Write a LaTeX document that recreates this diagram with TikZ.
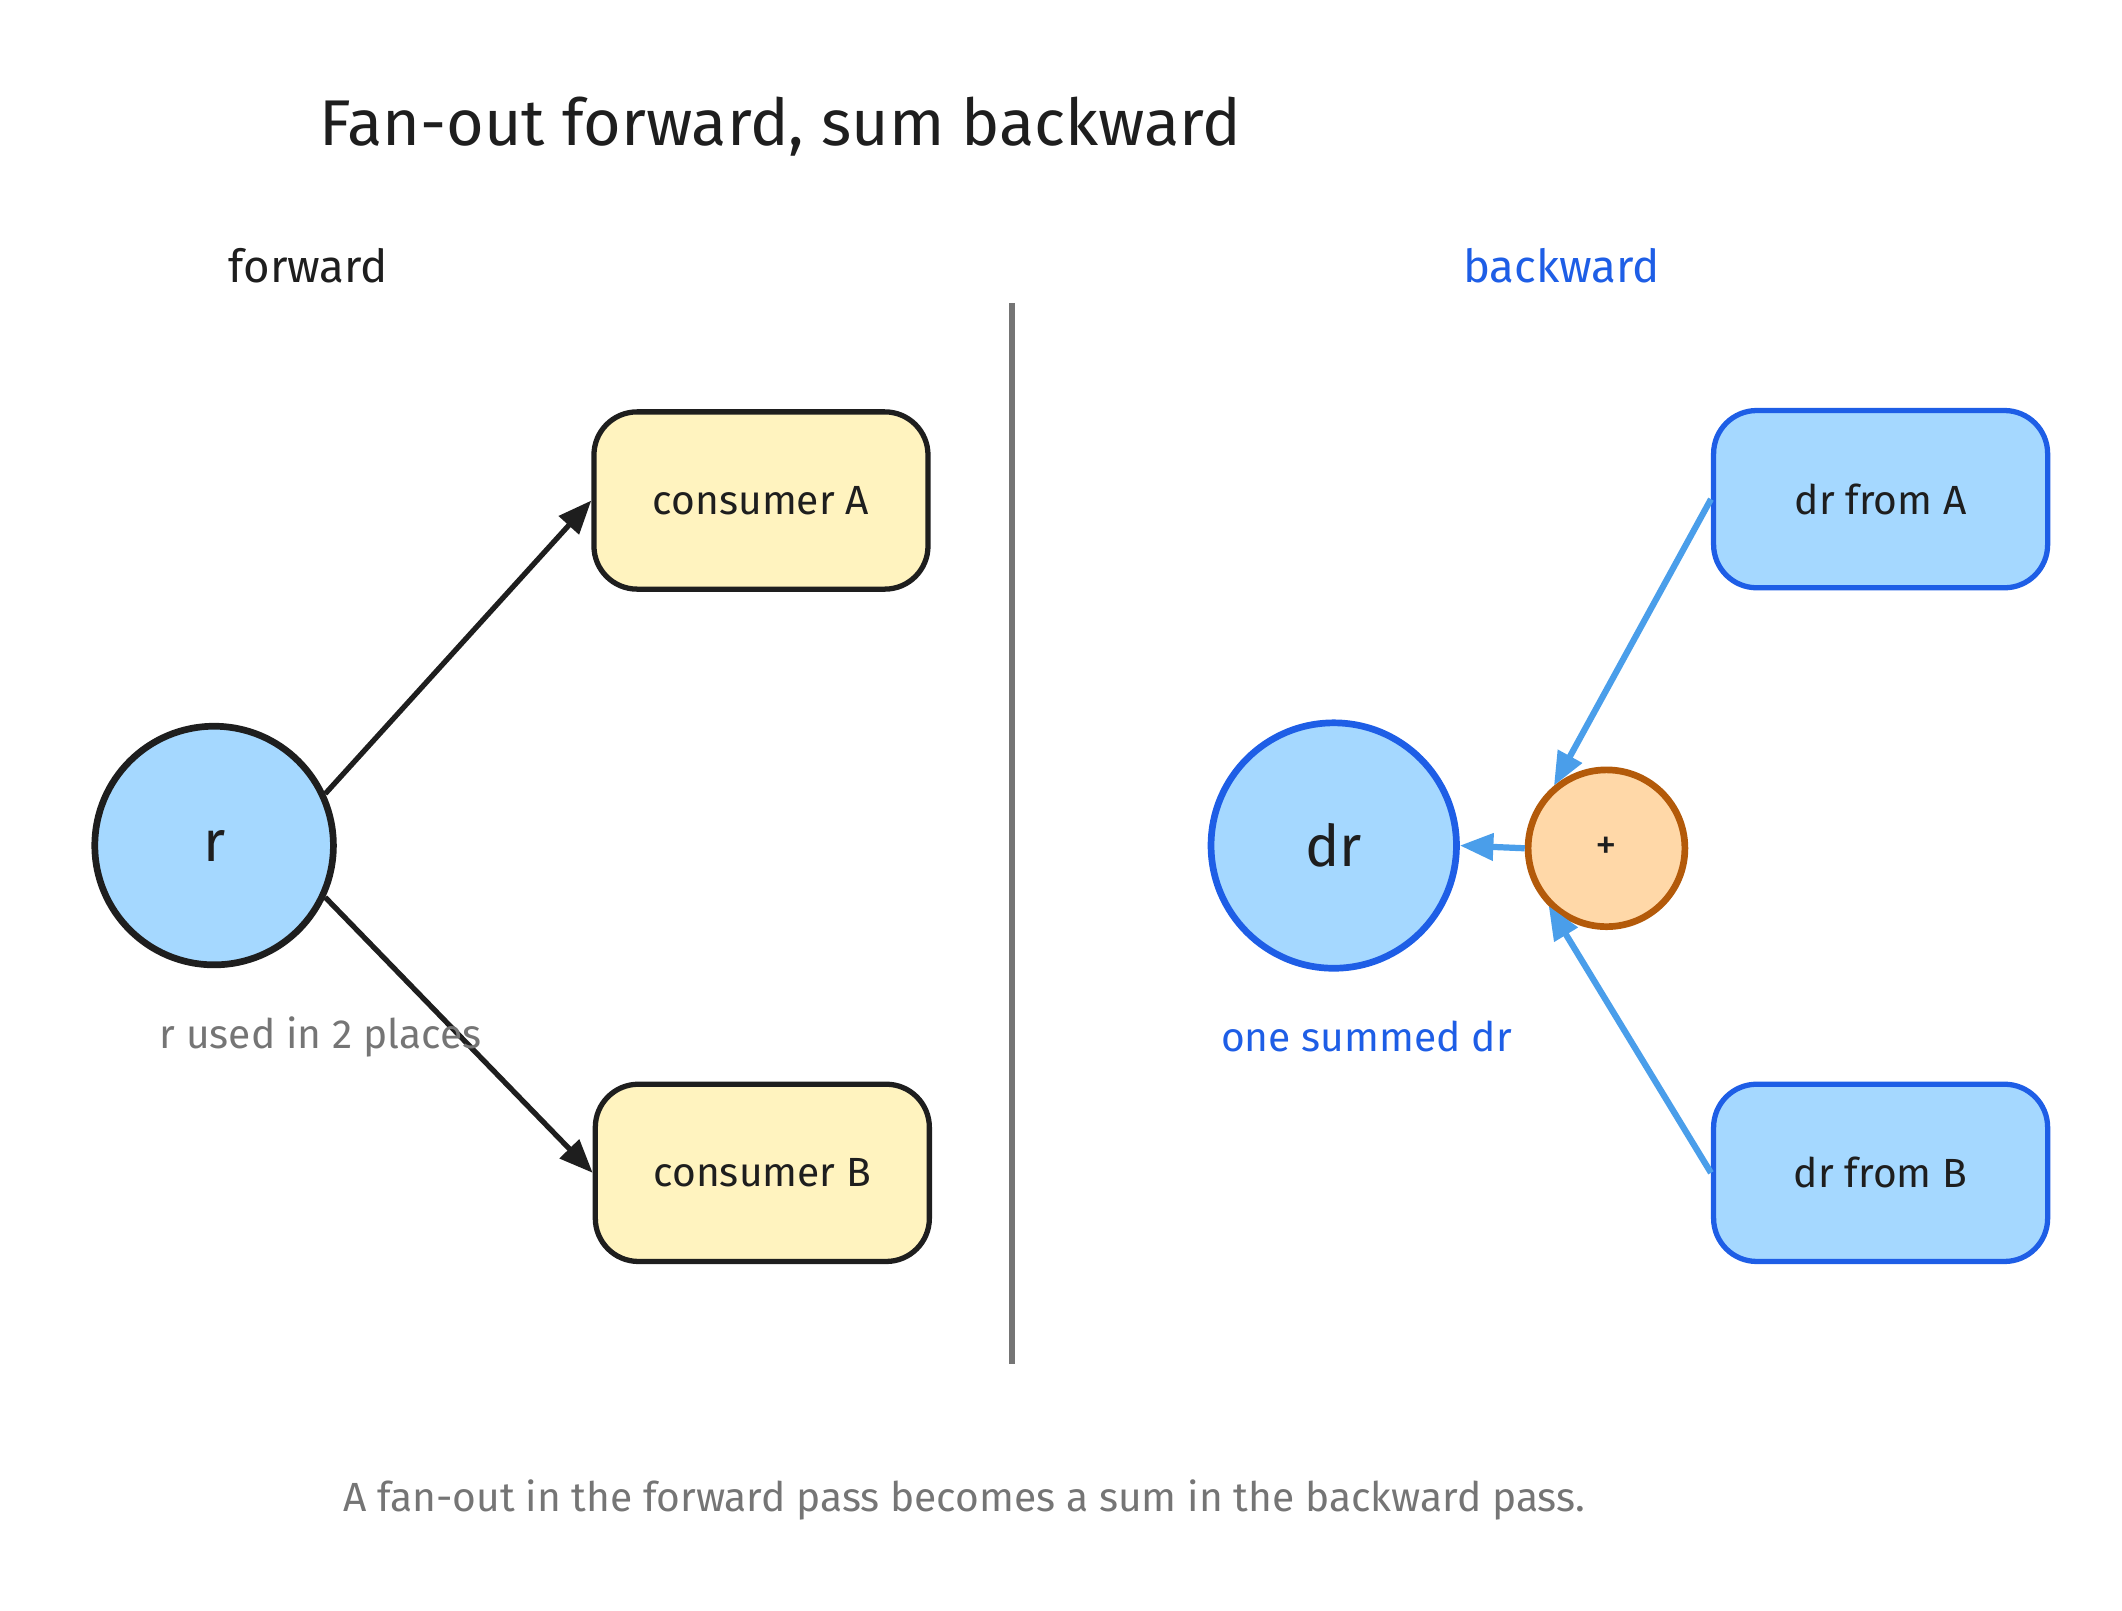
\documentclass[tikz,border=0pt]{standalone}
\usepackage{fontspec}
\setmainfont{Fira Sans}
\usetikzlibrary{arrows.meta}
\definecolor{lblue}{HTML}{A5D8FF}
\definecolor{lyel}{HTML}{FFF3BF}
\definecolor{lor}{HTML}{FFD8A8}
\definecolor{dor}{HTML}{B35A0A}
\definecolor{sblue}{HTML}{1E5EE6}
\definecolor{ablue}{HTML}{4A9EEA}
\definecolor{txt}{HTML}{1E1E1E}
\definecolor{gr}{HTML}{757575}
\begin{document}
\begin{tikzpicture}[x=0.02cm,y=-0.02cm,
  box/.style={draw=txt,line width=2.2pt,rounded corners=18pt,fill=lyel,minimum width=4.9cm,minimum height=2.6cm,font=\fontsize{17}{20}\selectfont,text=txt},
  bbox/.style={box,draw=sblue,fill=lblue},
  arr/.style={-{Triangle[length=14pt,width=11pt]},line width=2.2pt,draw=txt},
  barr/.style={arr,draw=ablue,line width=2.6pt},
  lab/.style={font=\fontsize{17}{20}\selectfont}]
\useasboundingbox (0,0) rectangle (1556,1181);
\node[anchor=west,font=\fontsize{27}{32}\selectfont,text=txt] (title) at (228,93) {Fan-out forward, sum backward};
\node[lab,font=\fontsize{19}{22}\selectfont,text=txt] (fw) at (226,195) {forward};
\node[lab,font=\fontsize{19}{22}\selectfont,text=sblue] (bw) at (1145,195) {backward};
\coordinate (d1) at (742,222); \coordinate (d2) at (742,1000);
\draw[gr,line width=2.5pt] (d1) -- (d2);
\node[circle,draw=txt,line width=2.8pt,fill=lblue,minimum size=3.5cm,inner sep=0,font=\fontsize{24}{28}\selectfont,text=txt] (r) at (157,620) {r};
\node[box] (ca) at (558,367) {consumer A};
\node[box] (cb) at (559,860) {consumer B};
\draw[arr] (r.25) -- (ca.west);
\draw[arr] (r.-25) -- (cb.west);
\node[lab,text=gr] (ru) at (235,760) {r used in 2 places};
\node[circle,draw=sblue,line width=2.8pt,fill=lblue,minimum size=3.6cm,inner sep=0,font=\fontsize{24}{28}\selectfont,text=txt] (dr) at (978,620) {dr};
\node[circle,draw=dor,line width=2.8pt,fill=lor,minimum size=2.3cm,inner sep=0,font=\fontsize{18}{20}\selectfont,text=txt] (p) at (1178,622) {+};
\node[bbox] (da) at (1379,366) {dr from A};
\node[bbox] (db) at (1379,860) {dr from B};
\draw[barr] (da.west) -- (p.130);
\draw[barr] (db.west) -- (p.-135);
\draw[barr] (p.west) -- (dr.east);
\node[lab,text=sblue] (os) at (1002,760) {one summed dr};
\node[lab,text=gr] (cap) at (707,1100) {A fan-out in the forward pass becomes a sum in the backward pass.};
\end{tikzpicture}
\end{document}
